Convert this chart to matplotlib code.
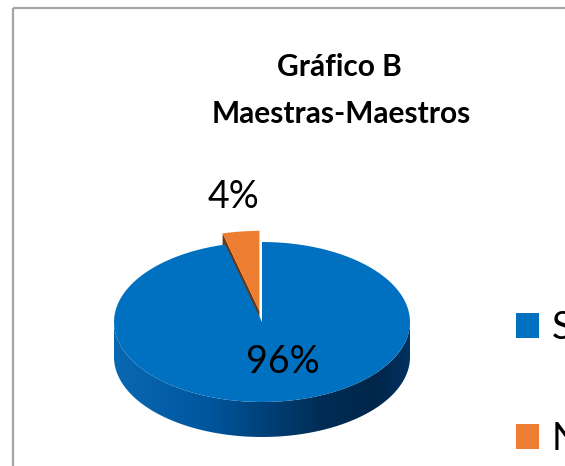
import numpy as np
import matplotlib
matplotlib.use("Agg")
import matplotlib.pyplot as plt
from matplotlib.patches import Polygon, Rectangle, Patch
from matplotlib.colors import LinearSegmentedColormap

plt.rcParams["font.family"] = ["Lato", "DejaVu Sans"]

title_lines = ["Gráfico B", "Maestras-Maestros"]
categories = ["Sí", "No"]
values = [96, 4]
colors = ["#0070C0", "#ED7D31"]
explode = [0.0, 0.14]

W, H = 565, 466
cx, cy, rx, ry, depth = 262, 322, 148, 80, 35


def arc(t0, t1, ox=0.0, oy=0.0, n=120):
    # angles measured clockwise from 12 o'clock, y axis points down
    t = np.radians(np.linspace(t0, t1, n))
    return np.column_stack([cx + ox + rx * np.sin(t), cy + oy - ry * np.cos(t)])


fig = plt.figure(figsize=(W / 100, H / 100), dpi=100)
ax = fig.add_axes([0, 0, 1, 1])
ax.set_xlim(0, W)
ax.set_ylim(H, 0)
ax.axis("off")

# outer chart border
ax.add_patch(Rectangle((12.5, 7.5), 700, 700, fill=False, edgecolor="#a6a6a6", lw=1.6))

total = float(sum(values))
angles = np.concatenate([[0], np.cumsum(values) / total * 360])

side_cmap = LinearSegmentedColormap.from_list(
    "side", [(0, "#0968b2"), (0.3, "#0057a0"), (0.7, "#002d55"), (0.88, "#00264a"), (1, "#003160")])

# back slices first
order = sorted(range(len(values)), key=lambda i: np.cos(np.radians((angles[i] + angles[i + 1]) / 2)), reverse=True)

for i in order:
    a0, a1 = angles[i], angles[i + 1]
    mid = np.radians((a0 + a1) / 2)
    ox = rx * explode[i] * np.sin(mid)
    oy = -ry * explode[i] * np.cos(mid)
    c = np.array([cx + ox, cy + oy])

    # radial face at start angle (only seen on the exploded slice)
    if np.cos(np.radians(a0 - 90)) < 0 and explode[i] > 0:
        e = arc(a0, a0, ox, oy, 1)[0]
        face = [c, e, e + [0, depth], c + [0, depth]]
        ax.add_patch(Polygon(face, closed=True, facecolor="#6b3712", edgecolor="none"))

    # front wall with shading
    lo, hi = max(a0, 90), min(a1, 270)
    if hi > lo:
        top = arc(lo, hi, ox, oy)
        bot = top[::-1] + [0, depth]
        wall = Polygon(np.vstack([top, bot]), closed=True, facecolor="none", edgecolor="none")
        ax.add_patch(wall)
        grad = np.linspace(0, 1, 256).reshape(1, -1)
        im = ax.imshow(grad, cmap=side_cmap, aspect="auto",
                       extent=(cx + ox - rx, cx + ox + rx, cy + oy + ry + depth, cy + oy - ry),
                       interpolation="bilinear")
        im.set_clip_path(wall)

    # top face
    pts = np.vstack([c, arc(a0, a1, ox, oy), c])
    ax.add_patch(Polygon(pts, closed=True, facecolor=colors[i], edgecolor="none"))

ax.set_xlim(0, W)
ax.set_ylim(H, 0)

# data labels
label_r = [0.5, 1.43]
label_dx = [12, 1]
for i in range(len(values)):
    mid = np.radians((angles[i] + angles[i + 1]) / 2)
    ox = rx * explode[i] * np.sin(mid)
    oy = -ry * explode[i] * np.cos(mid)
    lx = cx + ox + rx * label_r[i] * np.sin(mid) + label_dx[i]
    ly = cy + oy - ry * label_r[i] * np.cos(mid)
    ax.text(lx, ly, f"{values[i] / total:.0%}", fontsize=27, ha="center", va="center", color="black")

# title
ax.text(339, 76, title_lines[0], fontsize=21.5, fontweight="bold", ha="center", va="baseline")
ax.text(341, 123, title_lines[1], fontsize=21.5, fontweight="bold", ha="center", va="baseline")

handles = [Patch(facecolor=c, edgecolor="none") for c in colors]
ax.legend(handles, categories, loc="upper left", bbox_to_anchor=(516, 310),
          bbox_transform=ax.transData, frameon=False, fontsize=27,
          handlelength=0.6, handleheight=0.65, handletextpad=0.35,
          labelspacing=2.0, borderpad=0, borderaxespad=0)

fig.savefig("out.png", dpi=100)
